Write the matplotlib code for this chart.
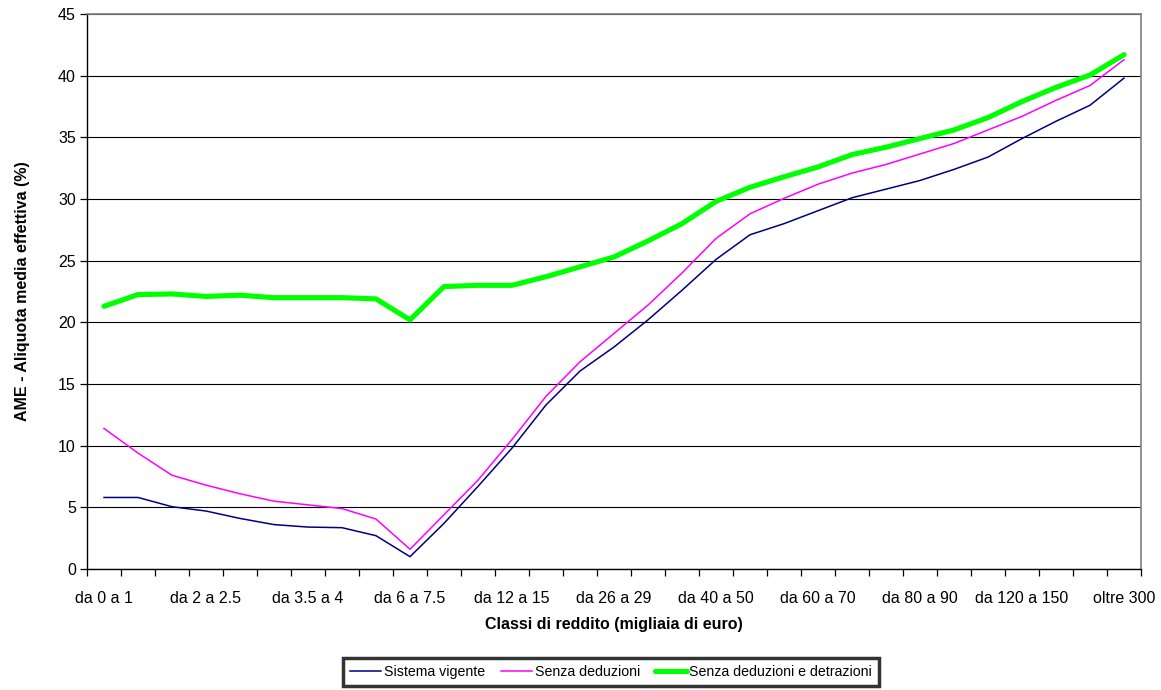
import matplotlib
matplotlib.use("Agg")
import matplotlib.pyplot as plt
from matplotlib.ticker import FixedLocator, NullFormatter

plt.rcParams['font.family'] = ['Liberation Sans', 'DejaVu Sans']

# Income classes (thousands of euro); only every third is labelled on the axis
classi = [
    "da 0 a 1", "da 1 a 1.5", "da 1.5 a 2", "da 2 a 2.5", "da 2.5 a 3", "da 3 a 3.5",
    "da 3.5 a 4", "da 4 a 5", "da 5 a 6", "da 6 a 7.5", "da 7.5 a 10", "da 10 a 12",
    "da 12 a 15", "da 15 a 20", "da 20 a 26", "da 26 a 29", "da 29 a 35", "da 35 a 40",
    "da 40 a 50", "da 50 a 55", "da 55 a 60", "da 60 a 70", "da 70 a 75", "da 75 a 80",
    "da 80 a 90", "da 90 a 100", "da 100 a 120", "da 120 a 150", "da 150 a 200",
    "da 200 a 300", "oltre 300",
]

# AME - aliquota media effettiva (%)
sistema_vigente = [
    5.8, 5.8, 5.05, 4.7, 4.1, 3.6, 3.4, 3.35, 2.7, 1.0, 3.7, 6.7, 9.8, 13.3, 16.05,
    18.0, 20.2, 22.6, 25.1, 27.1, 28.0, 29.05, 30.1, 30.8, 31.5, 32.4, 33.4, 34.9,
    36.3, 37.6, 39.8,
]
senza_deduzioni = [
    11.4, 9.4, 7.6, 6.8, 6.1, 5.5, 5.2, 4.9, 4.05, 1.6, 4.4, 7.2, 10.5, 14.0, 16.8,
    19.1, 21.4, 24.0, 26.8, 28.8, 30.05, 31.2, 32.1, 32.8, 33.65, 34.5, 35.6, 36.7,
    38.0, 39.2, 41.3,
]
senza_ded_detr = [
    21.3, 22.25, 22.3, 22.1, 22.2, 22.0, 22.0, 22.0, 21.9, 20.2, 22.9, 23.0, 23.0,
    23.7, 24.5, 25.3, 26.6, 28.0, 29.8, 30.95, 31.8, 32.6, 33.6, 34.2, 34.9, 35.6,
    36.6, 37.9, 39.05, 40.05, 41.7,
]

fig = plt.figure(figsize=(11.61, 6.9), dpi=100)
ax = fig.add_axes([87 / 1161, 121 / 690, 1054 / 1161, 555 / 690])

x = list(range(len(classi)))
ax.plot(x, sistema_vigente, color="#000080", lw=1.1, label="Sistema vigente")
ax.plot(x, senza_deduzioni, color="#FF00FF", lw=1.1, label="Senza deduzioni")
ax.plot(x, senza_ded_detr, color="#00FF00", lw=3.7, solid_capstyle="round",
        label="Senza deduzioni e detrazioni")

ax.set_xlim(-0.5, len(classi) - 0.5)
ax.set_ylim(0, 45)
ax.set_yticks(range(0, 46, 5))
ax.yaxis.grid(True, color="black", lw=0.8)
ax.set_axisbelow(True)

# tick marks between categories, labels on every third category
ax.xaxis.set_minor_locator(FixedLocator([i - 0.5 for i in range(len(classi) + 1)]))
ax.xaxis.set_minor_formatter(NullFormatter())
ax.set_xticks(x[::3])
ax.set_xticklabels(classi[::3])
ax.tick_params(axis="x", which="major", length=0, pad=16, labelsize=11.5)
ax.tick_params(axis="x", which="minor", length=5, width=0.9, direction="out")
ax.tick_params(axis="y", length=5, width=0.9, labelsize=11.5, pad=3)

for side in ["top", "right"]:
    ax.spines[side].set_color("#808080")
    ax.spines[side].set_linewidth(1.2)
for side in ["left", "bottom"]:
    ax.spines[side].set_color("black")
    ax.spines[side].set_linewidth(1.0)

ax.set_xlabel("Classi di reddito (migliaia di euro)", fontsize=11.5, fontweight="bold", labelpad=8)
ax.set_ylabel("AME - Aliquota media effettiva (%)", fontsize=11.5, fontweight="bold", labelpad=20)

leg = fig.legend(loc="center", bbox_to_anchor=(611 / 1161, 1 - 672 / 690), ncol=3,
                 fontsize=10.2, frameon=True, fancybox=False, handlelength=2.2,
                 handletextpad=0.2, columnspacing=1.1, borderpad=0.5)
leg.get_frame().set_edgecolor("black")
leg.get_frame().set_linewidth(2.5)

fig.savefig("out.png", dpi=100)
